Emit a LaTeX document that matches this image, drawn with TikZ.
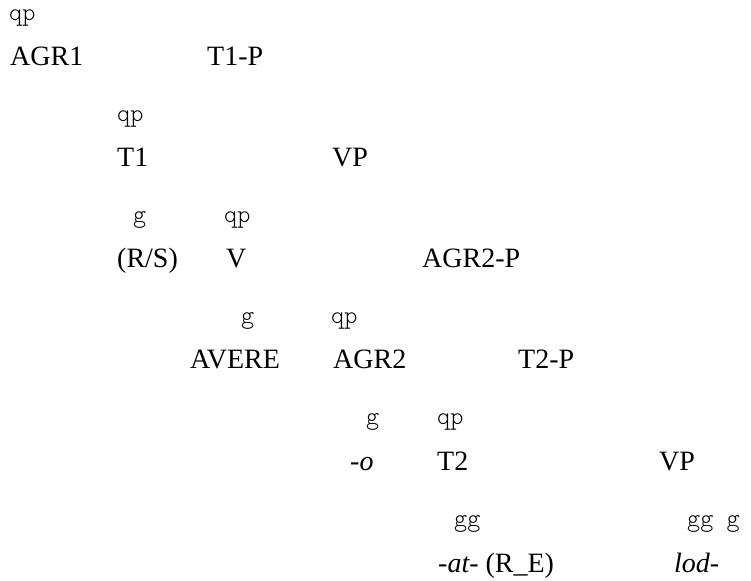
\documentclass[tikz,border=0pt]{standalone}
\usepackage{fontspec}
\setmainfont{Liberation Serif}
\usepackage{tikz}

\begin{document}
\begin{tikzpicture}[x=1pt,y=-1pt,
		cat/.style={anchor=base west,inner sep=0pt,font=\fontsize{28}{28}\selectfont},
		branch/.style={anchor=base west,inner sep=0pt,font=\fontseries{l}\ttfamily\fontsize{25}{25}\selectfont}]
		\useasboundingbox (0,0) rectangle (751,580);
		\node [branch] (qa) at (9,21) {qp};
		\node [cat] (agra) at (10,66) {AGR1};
		\node [cat] (tap) at (207,66) {T1-P};
		\node [branch] (qb) at (117,122) {qp};
		\node [cat] (ta) at (117,167) {T1};
		\node [cat] (vpa) at (332,167) {VP};
		\node [branch] (ga) at (133,222) {g};
		\node [branch] (qc) at (224,222) {qp};
		\node [cat] (rs) at (117,267) {(R/S)};
		\node [cat] (v) at (226,267) {V};
		\node [cat] (agrbp) at (422,267) {AGR2-P};
		\node [branch] (gb) at (241,323) {g};
		\node [branch] (qd) at (331,323) {qp};
		\node [cat] (avere) at (190,368) {AVERE};
		\node [cat] (agrb) at (333,368) {AGR2};
		\node [cat] (tbp) at (518,368) {T2-P};
		\node [branch] (gc) at (366,424) {g};
		\node [branch] (qe) at (437,424) {qp};
		\node [cat] (o) at (350,470) {\textit{-o}};
		\node [cat] (tb) at (437,470) {T2};
		\node [cat] (vpb) at (659,470) {VP};
		\node [branch] (gd) at (454,526) {gg};
		\node [branch] (ge) at (687,526) {gg g};
		\node [cat] (at) at (438,572) {\textit{-at-} (R\_E)};
		\node [cat] (lod) at (674,572) {\textit{lod-}};
\end{tikzpicture}
\end{document}
